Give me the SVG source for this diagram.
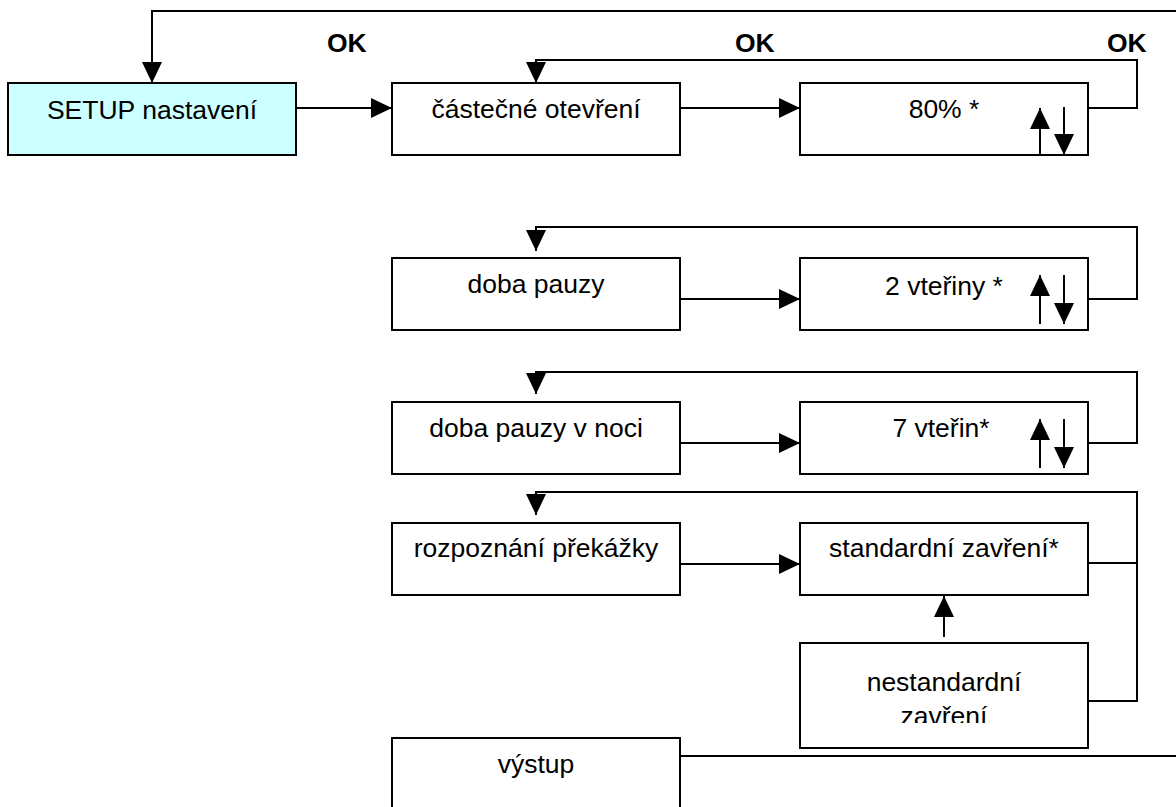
<svg xmlns="http://www.w3.org/2000/svg" width="1176" height="807" viewBox="0 0 1176 807">
  <defs>
    <style>
      .box { fill: #ffffff; stroke: #000000; stroke-width: 2; }
      .setup { fill: #ccffff; }
      .wire { fill: none; stroke: #000000; stroke-width: 2; }
      .lbl { font-family: "Liberation Sans", Arial, sans-serif; font-size: 26.5px; fill: #000000; text-anchor: middle; }
      .ok { font-family: "Liberation Sans", Arial, sans-serif; font-size: 26.5px; font-weight: bold; fill: #000000; }
    </style>
    <marker id="head" viewBox="0 0 21 20" refX="21" refY="10" markerWidth="21" markerHeight="20" markerUnits="userSpaceOnUse" orient="auto">
      <path d="M0,0 L21,10 L0,20 Z" fill="#000000"/>
    </marker>
    <!-- text frame of the two-line box is shorter than the box itself -->
    <clipPath id="clip-nestd">
      <rect x="800" y="643" width="288" height="80"/>
    </clipPath>
  </defs>

  <!-- OK labels -->
  <text class="ok" x="327" y="52">OK</text>
  <text class="ok" x="735" y="52">OK</text>
  <text class="ok" x="1107" y="52">OK</text>

  <!-- nodes -->
  <g id="setup">
    <rect class="box setup" x="8" y="83" width="288" height="72"/>
    <text class="lbl" x="152" y="119">SETUP nastavení</text>
  </g>
  <g id="castecne">
    <rect class="box" x="392" y="83" width="288" height="72"/>
    <text class="lbl" x="536" y="118">částečné otevření</text>
  </g>
  <g id="open80">
    <rect class="box" x="800" y="83" width="288" height="72"/>
    <text class="lbl" x="944" y="118">80% *</text>
    <line class="wire" x1="1040" y1="155" x2="1040" y2="108" marker-end="url(#head)"/>
    <line class="wire" x1="1064" y1="107" x2="1064" y2="155" marker-end="url(#head)"/>
  </g>
  <g id="pauza">
    <rect class="box" x="392" y="258" width="288" height="72"/>
    <text class="lbl" x="536" y="293">doba pauzy</text>
  </g>
  <g id="pauza2s">
    <rect class="box" x="800" y="258" width="288" height="72"/>
    <text class="lbl" x="944" y="295">2 vteřiny *</text>
    <line class="wire" x1="1040" y1="324" x2="1040" y2="275" marker-end="url(#head)"/>
    <line class="wire" x1="1064" y1="275" x2="1064" y2="324" marker-end="url(#head)"/>
  </g>
  <g id="pauzanoc">
    <rect class="box" x="392" y="402" width="288" height="72"/>
    <text class="lbl" x="536" y="437">doba pauzy v noci</text>
  </g>
  <g id="pauza7s">
    <rect class="box" x="800" y="402" width="288" height="72"/>
    <text class="lbl" x="941" y="437">7 vteřin*</text>
    <line class="wire" x1="1040" y1="468" x2="1040" y2="419" marker-end="url(#head)"/>
    <line class="wire" x1="1064" y1="419" x2="1064" y2="468" marker-end="url(#head)"/>
  </g>
  <g id="prekazka">
    <rect class="box" x="392" y="523" width="288" height="72"/>
    <text class="lbl" x="536" y="557">rozpoznání překážky</text>
  </g>
  <g id="standard">
    <rect class="box" x="800" y="523" width="288" height="72"/>
    <text class="lbl" x="944" y="557">standardní zavření*</text>
  </g>
  <g id="nestandard">
    <rect class="box" x="800" y="643" width="288" height="105"/>
    <g clip-path="url(#clip-nestd)">
      <text class="lbl" x="944" y="691">nestandardní</text>
      <text class="lbl" x="944" y="725">zavření</text>
    </g>
  </g>
  <g id="vystup">
    <rect class="box" x="392" y="738" width="288" height="80"/>
    <text class="lbl" x="536" y="773">výstup</text>
  </g>

  <!-- connectors -->
  <g id="connectors">
    <polyline class="wire" points="1176,11 152,11 152,83" marker-end="url(#head)"/>
    <line class="wire" x1="296" y1="108" x2="392" y2="108" marker-end="url(#head)"/>
    <line class="wire" x1="680" y1="108" x2="800" y2="108" marker-end="url(#head)"/>
    <polyline class="wire" points="1088,108 1137,108 1137,60 536,60 536,83" marker-end="url(#head)"/>

    <line class="wire" x1="680" y1="299" x2="800" y2="299" marker-end="url(#head)"/>
    <polyline class="wire" points="1088,299 1137,299 1137,227 536,227 536,251" marker-end="url(#head)"/>

    <line class="wire" x1="680" y1="443" x2="800" y2="443" marker-end="url(#head)"/>
    <polyline class="wire" points="1088,443 1137,443 1137,372 536,372 536,394" marker-end="url(#head)"/>

    <line class="wire" x1="680" y1="564" x2="800" y2="564" marker-end="url(#head)"/>
    <polyline class="wire" points="1088,563 1137,563"/>
    <polyline class="wire" points="1088,701 1137,701 1137,492 536,492 536,515" marker-end="url(#head)"/>
    <line class="wire" x1="944" y1="637" x2="944" y2="596" marker-end="url(#head)"/>

    <line class="wire" x1="680" y1="756" x2="1176" y2="756"/>
  </g>
</svg>
